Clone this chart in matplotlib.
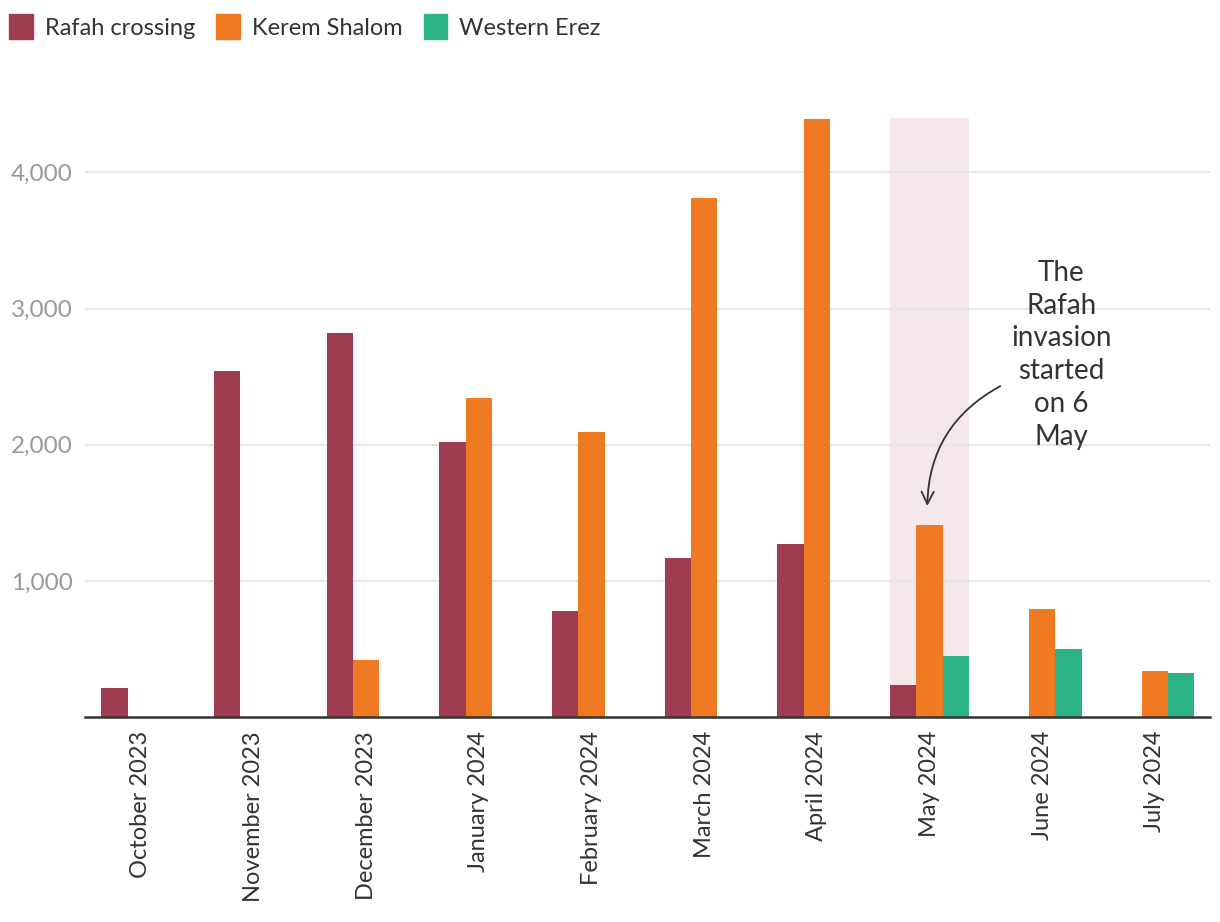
import matplotlib
matplotlib.use("Agg")
import matplotlib.pyplot as plt
import numpy as np
from matplotlib.patches import Patch

MONTHS = ["October 2023", "November 2023", "December 2023", "January 2024",
          "February 2024", "March 2024", "April 2024", "May 2024",
          "June 2024", "July 2024"]
RAFAH = [210, 2540, 2820, 2020, 775, 1170, 1270, 235, 0, 0]
KEREM = [0, 0, 420, 2340, 2095, 3815, 4395, 1410, 790, 340]
EREZ = [0, 0, 0, 0, 0, 0, 0, 445, 500, 320]
SERIES = ["Rafah crossing", "Kerem Shalom", "Western Erez"]
COLORS = ["#a03c50", "#f07a21", "#2cb487"]
YTICKS = [1000, 2000, 3000, 4000]
HIGHLIGHT = "May 2024"
NOTE = "The\nRafah\ninvasion\nstarted\non 6\nMay"

plt.rcParams.update({"font.family": ["Lato", "DejaVu Sans"]})
fig = plt.figure(figsize=(12.2, 9.22), dpi=100)
ax = fig.add_axes([85 / 1220, 1 - 717 / 922, 1125 / 1220, 599 / 922])

x = np.arange(len(MONTHS))
w = 0.234
for i, (vals, c) in enumerate(zip([RAFAH, KEREM, EREZ], COLORS)):
    ax.bar(x + (i - 1) * w, vals, width=w, color=c, zorder=2, linewidth=0)

hi = MONTHS.index(HIGHLIGHT)
ax.axvspan(hi - 1.5 * w, hi + 1.5 * w, ymin=0, ymax=1, color="#f5e8eb",
           zorder=0, lw=0)

ax.set_xlim(-0.497, 9.49)
ax.set_ylim(0, 4400)
ax.set_yticks(YTICKS)
ax.set_yticklabels([f"{v:,}" for v in YTICKS])
ax.set_xticks(x)
ax.set_xticklabels(MONTHS, rotation=90)
ax.tick_params(axis="y", length=0, pad=9, labelsize=17.5, labelcolor="#999999")
ax.tick_params(axis="x", length=0, pad=10, labelsize=17, labelcolor="#333333")
ax.grid(axis="y", color="#e6e6e6", lw=1.5, zorder=1)
for s in ["top", "right", "left"]:
    ax.spines[s].set_visible(False)
ax.spines["bottom"].set_color("#333333")
ax.spines["bottom"].set_linewidth(1.8)
ax.spines["bottom"].set_zorder(3)

ax.text(8.17, 3360, NOTE, ha="center", va="top", fontsize=20,
        color="#333333", linespacing=1.33)
ax.annotate("", xy=(6.98, 1530), xytext=(7.65, 2440),
            arrowprops=dict(arrowstyle="->", lw=1.3, color="#333333",
                            connectionstyle="arc3,rad=0.3",
                            mutation_scale=22))

handles = [Patch(color=c, label=l) for c, l in zip(COLORS, SERIES)]
fig.legend(handles=handles, loc="upper left", bbox_to_anchor=(-0.004, 1.0),
           ncol=3, frameon=False, fontsize=17, handlelength=1.0,
           handleheight=1.25, handletextpad=0.5, columnspacing=0.9,
           labelcolor="#333333", borderaxespad=0.2)

fig.savefig("out.png", dpi=100)
